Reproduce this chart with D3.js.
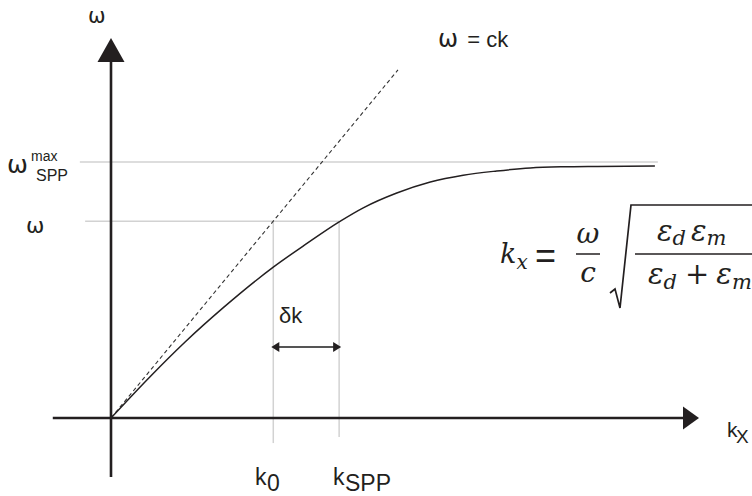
<!DOCTYPE html>
<html>
<head>
<meta charset="utf-8">
<script src="https://cdn.jsdelivr.net/npm/d3@7"></script>
<style>
  body { margin: 0; background: #fff; }
  svg { display: block; }
  .lbl { font-family: "Liberation Sans", Arial, sans-serif; fill: #231f20; }
  .greek { font-family: "DejaVu Sans", sans-serif; }
  .math { font-family: "DejaVu Serif", "Liberation Serif", serif; font-style: italic; fill: #231f20; }
</style>
</head>
<body>
<div id="chart"></div>
<script>
// dispersion curve of the surface plasmon (arbitrary units)
var curveK = [0, 0.66, 1.26, 1.90, 2.76, 3.32, 3.88, 4.29, 4.86, 5.43, 5.99, 6.56, 7.13, 7.69, 8.27, 9.25];
var curveW = [0, 1.08, 2.00, 2.89, 3.97, 4.58, 5.16, 5.53, 5.92, 6.21, 6.39, 6.50, 6.58, 6.61, 6.62, 6.63];

// light line omega = ck
var lightK = [0, 4.88];
var lightW = [0, 9.16];

var omegaMax = 6.74,
    omega = 5.18,
    k0 = 2.76,
    kSpp = 3.88,
    deltaY = 1.87;

var width = 752, height = 496;
var ink = "#231f20", grey = "#d2d2d2";

var x = d3.scaleLinear().domain([0, 10]).range([111, 699]);
var y = d3.scaleLinear().domain([0, 10]).range([418, 38]);

var svg = d3.select("#chart").append("svg")
    .attr("width", width)
    .attr("height", height);

svg.append("rect").attr("width", width).attr("height", height).attr("fill", "#fff");

// grey guide lines
svg.append("line")
    .attr("x1", x(-0.53)).attr("x2", x(9.3))
    .attr("y1", y(omegaMax)).attr("y2", y(omegaMax))
    .attr("stroke", grey).attr("stroke-width", 1.5);
svg.append("line")
    .attr("x1", x(-0.44)).attr("x2", x(kSpp))
    .attr("y1", y(omega)).attr("y2", y(omega))
    .attr("stroke", grey).attr("stroke-width", 1.5);
svg.append("line")
    .attr("x1", x(k0)).attr("x2", x(k0))
    .attr("y1", y(omega)).attr("y2", y(-0.66))
    .attr("stroke", grey).attr("stroke-width", 1.5);
svg.append("line")
    .attr("x1", x(kSpp)).attr("x2", x(kSpp))
    .attr("y1", y(omega)).attr("y2", y(-0.5))
    .attr("stroke", grey).attr("stroke-width", 1.5);

// axes
svg.append("line")
    .attr("x1", x(-0.99)).attr("x2", x(10) - 16)
    .attr("y1", y(0)).attr("y2", y(0))
    .attr("stroke", ink).attr("stroke-width", 2.6);
svg.append("path")
    .attr("d", "M" + x(10) + "," + y(0) + "L" + (x(10) - 16) + "," + (y(0) - 11.5) + "L" + (x(10) - 16) + "," + (y(0) + 11.5) + "Z")
    .attr("fill", ink);

svg.append("line")
    .attr("x1", x(0)).attr("x2", x(0))
    .attr("y1", y(-1.55)).attr("y2", y(10) + 24)
    .attr("stroke", ink).attr("stroke-width", 2.6);
svg.append("path")
    .attr("d", "M" + x(0) + "," + y(10) + "L" + (x(0) - 13.5) + "," + (y(10) + 24) + "L" + (x(0) + 13.5) + "," + (y(10) + 24) + "Z")
    .attr("fill", ink);

// light line
svg.append("path")
    .datum(d3.zip(lightK, lightW))
    .attr("d", d3.line().x(function(d) { return x(d[0]); }).y(function(d) { return y(d[1]); }))
    .attr("fill", "none")
    .attr("stroke", "#333")
    .attr("stroke-width", 1.1)
    .attr("stroke-dasharray", "4,3");

// SPP curve
svg.append("path")
    .datum(d3.zip(curveK, curveW))
    .attr("d", d3.line()
        .x(function(d) { return x(d[0]); })
        .y(function(d) { return y(d[1]); })
        .curve(d3.curveMonotoneX))
    .attr("fill", "none")
    .attr("stroke", ink)
    .attr("stroke-width", 1.5);

// delta k double arrow
var ay = y(deltaY);
svg.append("line")
    .attr("x1", x(k0) + 4).attr("x2", x(kSpp) - 4)
    .attr("y1", ay).attr("y2", ay)
    .attr("stroke", "#555").attr("stroke-width", 2);
svg.append("path")
    .attr("d", "M" + (x(k0) - 2) + "," + ay + "l8,-5l0,10Z")
    .attr("fill", ink);
svg.append("path")
    .attr("d", "M" + (x(kSpp) + 2) + "," + ay + "l-8,-5l0,10Z")
    .attr("fill", ink);

// labels
function label(txt, px, py, size, anchor) {
    return svg.append("text").attr("class", "lbl")
        .attr("x", px).attr("y", py)
        .attr("font-size", size)
        .attr("text-anchor", anchor || "start")
        .text(txt);
}
function omegaLabel(px, py, size) {
    return svg.append("text").attr("class", "lbl greek")
        .attr("x", px).attr("y", py)
        .attr("font-size", size)
        .text("ω");
}

omegaLabel(88, 23, 21);
var lc = svg.append("text").attr("class", "lbl").attr("x", 438).attr("y", 47).attr("font-size", 22);
lc.append("tspan").attr("class", "greek").attr("font-size", 24).text("ω");
lc.append("tspan").attr("dx", 3).text(" = ck");
omegaLabel(7, 173, 25);
label("max", 31, 161, 14);
label("SPP", 36, 181, 16);
omegaLabel(26, 233, 22);
label("δk", 279, 323, 22);
label("k", 255, 485, 23);
label("0", 267, 491, 23);
label("k", 333, 485, 23);
label("SPP", 345, 491, 23);
label("k", 727, 437, 21);
label("X", 736, 443, 19);

// formula  k_x = (omega/c) sqrt(eps_d eps_m / (eps_d + eps_m))
var f = svg.append("g");
var t = f.append("text").attr("class", "math").attr("x", 500).attr("y", 263).attr("font-size", 27);
t.append("tspan").text("k");
t.append("tspan").attr("font-size", 20).attr("dy", 6).text("x");
f.append("text").attr("class", "lbl").attr("x", 535).attr("y", 268).attr("font-size", 36).text("=");
f.append("text").attr("class", "math").attr("x", 588).attr("y", 243).attr("font-size", 28).attr("text-anchor", "middle").text("ω");
f.append("line").attr("x1", 576).attr("x2", 600).attr("y1", 254).attr("y2", 254).attr("stroke", ink).attr("stroke-width", 1.5);
f.append("text").attr("class", "math").attr("x", 588).attr("y", 282).attr("font-size", 28).attr("text-anchor", "middle").text("c");
f.append("path")
    .attr("d", "M610,293L615,289L620,308L631,205L752,205")
    .attr("fill", "none").attr("stroke", ink).attr("stroke-width", 1.7);
f.append("line").attr("x1", 635).attr("x2", 752).attr("y1", 254).attr("y2", 254).attr("stroke", ink).attr("stroke-width", 1.5);

var num = f.append("text").attr("class", "math").attr("x", 657).attr("y", 241).attr("font-size", 29);
num.append("tspan").text("ε");
num.append("tspan").attr("font-size", 21).attr("dy", 4).text("d");
num.append("tspan").attr("dy", -4).attr("dx", 5).text("ε");
num.append("tspan").attr("font-size", 21).attr("dy", 4).text("m");

var den = f.append("text").attr("class", "math").attr("x", 648).attr("y", 284).attr("font-size", 29);
den.append("tspan").text("ε");
den.append("tspan").attr("font-size", 21).attr("dy", 5).text("d");
den.append("tspan").attr("dy", -5).attr("dx", 8).attr("font-style", "normal").text("+");
den.append("tspan").attr("dx", 7).text("ε");
den.append("tspan").attr("font-size", 21).attr("dy", 5).text("m");
</script>
</body>
</html>
